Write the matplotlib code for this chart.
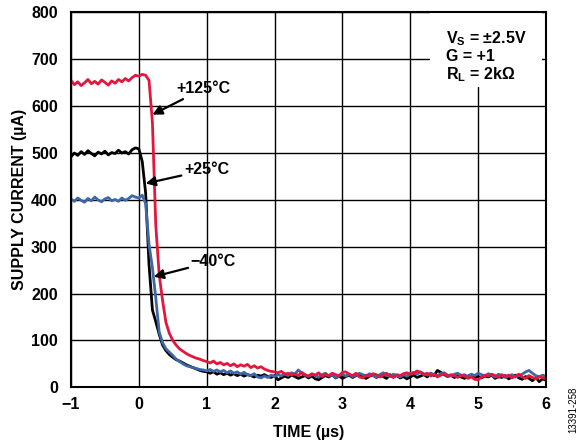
import matplotlib
matplotlib.use("Agg")
import matplotlib.pyplot as plt
import matplotlib.patches as mpatches
import numpy as np

plt.rcParams['font.family'] = ['Liberation Sans', 'DejaVu Sans']
plt.rcParams['font.weight'] = 'bold'
plt.rcParams['mathtext.default'] = 'regular'

# time axis in microseconds, one sample every 0.05 us from -1 to 6
time_us = np.round(np.arange(141) * 0.05 - 1.0, 2)

# supply current (uA)
current_125c = [
    655, 646, 652, 644, 650, 657, 648, 653, 647, 656, 651, 645, 654, 649, 657, 652, 659, 654, 661, 666,
    664,
    668, 666, 655, 565, 345, 240, 185, 138, 115, 100, 90, 82, 77, 72, 68, 65, 62, 60, 57, 55,
    52, 56, 50, 53, 48, 51, 46, 50, 44, 48, 45, 49, 42, 46, 41, 44, 39, 36, 34, 33,
    31, 34, 28, 30, 26, 29, 25, 32, 27, 24, 29, 26, 31, 23, 28, 25, 30, 27, 24, 32,
    33, 28, 25, 30, 22, 20, 26, 24, 29, 27, 22, 26, 30, 24, 21, 27, 25, 29, 31, 28,
    30, 35, 32, 27, 30, 24, 28, 22, 26, 29, 23, 27, 25, 21, 26, 24, 19, 22, 17, 16,
    22, 26, 24, 28, 25, 21, 27, 23, 26, 20, 24, 28, 22, 19, 25, 21, 18, 23, 20, 19,
]
current_25c = [
    492, 500, 495, 503, 497, 505, 499, 494, 502, 498, 504, 496, 501, 499, 506, 500, 503, 498, 507, 511,
    509,
    482, 415, 262, 165, 140, 113, 90, 78, 70, 64, 59, 56, 52, 48, 45, 42, 39, 36, 34, 33,
    30, 33, 28, 31, 27, 30, 26, 29, 25, 28, 24, 27, 25, 22, 26, 24, 27, 23, 21, 25,
    16, 20, 24, 21, 26, 23, 19, 22, 25, 20, 24, 18, 16, 21, 25, 22, 27, 20, 24, 19,
    23, 26, 21, 25, 28, 22, 19, 24, 26, 21, 25, 23, 19, 27, 22, 25, 20, 23, 18, 22,
    26, 21, 24, 27, 22, 30, 25, 36, 32, 27, 23, 26, 21, 25, 22, 19, 24, 27, 21, 23,
    20, 24, 22, 26, 19, 23, 21, 25, 18, 22, 26, 20, 17, 23, 19, 14, 21, 12, 18, 15,
]
current_m40c = [
    402, 397, 404, 399, 395, 403, 398, 406, 400, 396, 402, 405, 398, 401, 397, 404, 399, 403, 409, 406,
    404,
    410, 392, 305, 255, 190, 118, 95, 82, 75, 68, 60, 55, 50, 46, 44, 42, 40, 38, 37, 35,
    38, 34, 37, 33, 36, 31, 35, 30, 33, 28, 32, 27, 25, 29, 22, 20, 24, 21, 26, 23,
    27, 24, 29, 25, 31, 28, 37, 30, 26, 23, 28, 25, 22, 27, 30, 24, 27, 21, 25, 28,
    24, 28, 23, 26, 30, 27, 24, 29, 25, 22, 27, 31, 26, 23, 28, 25, 22, 27, 24, 29,
    32, 28, 33, 29, 26, 30, 27, 25, 29, 31, 26, 24, 28, 30, 25, 27, 22, 28, 25, 30,
    27, 24, 29, 26, 22, 28, 25, 21, 24, 27, 22, 25, 28, 33, 36, 30, 25, 22, 26, 23,
]

x_ticks = [-1, 0, 1, 2, 3, 4, 5, 6]
y_ticks = [0, 100, 200, 300, 400, 500, 600, 700, 800]

fs = 11.5

fig = plt.figure(figsize=(5.79, 4.46), dpi=100)
ax = fig.add_axes([0.1226, 0.1316, 0.8204, 0.8404])

ax.plot(time_us, current_25c, color='black', lw=2.0)
ax.plot(time_us, current_m40c, color='#3d67a8', lw=2.0)
ax.plot(time_us, current_125c, color='#e3173e', lw=2.0)

ax.set_xlim(-1, 6)
ax.set_ylim(0, 800)
ax.set_xticks(x_ticks)
ax.set_yticks(y_ticks)
ax.set_xticklabels(['\u22121'] + [str(v) for v in x_ticks[1:]])
ax.tick_params(length=0, labelsize=fs)
ax.tick_params(axis='y', pad=9.5)
ax.tick_params(axis='x', pad=7)
ax.grid(True, color='black', lw=1.0)
for s in ax.spines.values():
    s.set_linewidth(1.5)

ax.set_xlabel('TIME (µs)', fontsize=fs, fontweight='bold')
ax.set_ylabel('SUPPLY CURRENT (µA)', fontsize=fs, fontweight='bold')
ax.xaxis.set_label_coords(0.5, -0.1)
ax.yaxis.set_label_coords(-0.093, 0.5)

arrow = dict(arrowstyle='-|>', color='black', lw=1.6, mutation_scale=14, shrinkA=0, shrinkB=0)
ax.annotate('+125°C', xy=(0.2, 582), xytext=(0.95, 637), fontsize=fs, fontweight='bold',
            ha='center', va='center', arrowprops=arrow)
ax.annotate('+25°C', xy=(0.1, 435), xytext=(1.0, 464), fontsize=fs, fontweight='bold',
            ha='center', va='center', arrowprops=arrow)
ax.annotate('\u221240°C', xy=(0.22, 236), xytext=(1.1, 269), fontsize=fs, fontweight='bold',
            ha='center', va='center', arrowprops=arrow)

# white patch behind the conditions text, hiding the grid there
ax.add_patch(mpatches.Rectangle((0.756, 0.80), 0.236, 0.198, transform=ax.transAxes,
                                facecolor='white', edgecolor='none', zorder=2.5))
ax.text(0.79, 0.955, 'V$_S$ = ±2.5V\nG = +1\nR$_L$ = 2kΩ', transform=ax.transAxes,
        fontsize=fs, fontweight='bold', va='top', ha='left', linespacing=1.1, zorder=3)

fig.text(0.999, 0.081, '13391-258', rotation=90, fontsize=7, fontweight='normal',
         ha='right', va='center')

fig.savefig('out.png', dpi=100)
